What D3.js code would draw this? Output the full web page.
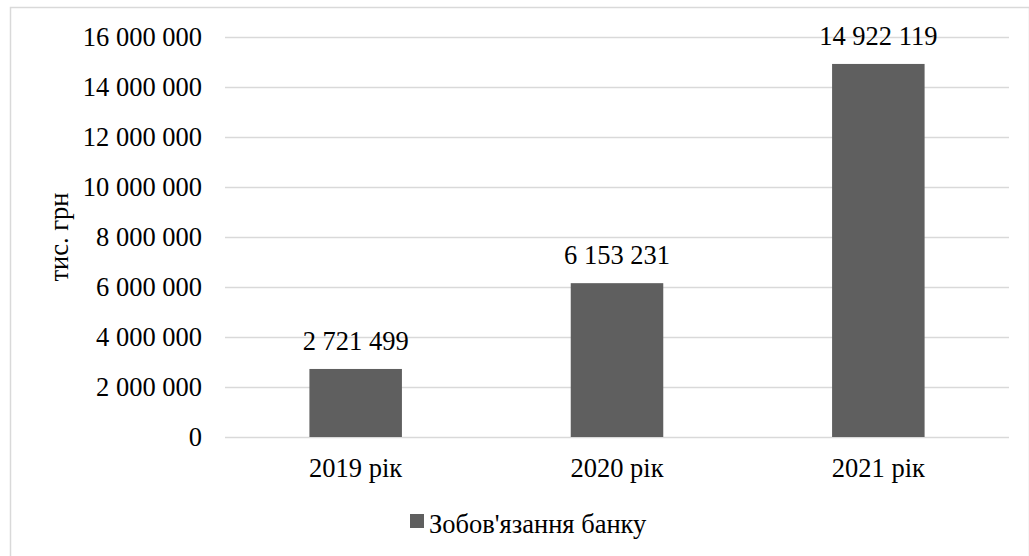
<!DOCTYPE html>
<html>
<head>
<meta charset="utf-8">
<script src="https://cdn.jsdelivr.net/npm/d3@7"></script>
<style>
html,body{margin:0;padding:0;background:#fff;}
</style>
</head>
<body>
<svg id="chart" width="1029" height="556"></svg>
<script>
const categories = ["2019 рік", "2020 рік", "2021 рік"];
const values = [2721499, 6153231, 14922119];
const yTicks = [0, 2000000, 4000000, 6000000, 8000000, 10000000, 12000000, 14000000, 16000000];
const seriesName = "Зобов'язання банку";
const yTitle = "тис. грн";

const FONT = '"Liberation Serif"';
const svg = d3.select("#chart");
const W = 1029, H = 556;
const plot = {left: 225, right: 1009, top: 37, bottom: 437};
const fontSize = 26.5;
const barColor = "#5f5f5f";

const loc = d3.formatLocale({decimal: ",", thousands: "\u00a0", grouping: [3], currency: ["", ""]});
const fmt = loc.format(",d");

// outer border
svg.append("rect").attr("x", 10.5).attr("y", 7.5).attr("width", W - 10).attr("height", H - 6)
  .attr("fill", "none").attr("stroke", "#d9d9d9").attr("stroke-width", 1.5);

const x = d3.scaleBand().domain(categories).range([plot.left, plot.right]).padding(0);
const y = d3.scaleLinear().domain([0, 16000000]).range([plot.bottom, plot.top]);

// gridlines
svg.append("g").selectAll("line").data(yTicks).join("line")
  .attr("x1", plot.left).attr("x2", plot.right)
  .attr("y1", d => Math.round(y(d)) + 0.5).attr("y2", d => Math.round(y(d)) + 0.5)
  .attr("stroke", "#d9d9d9").attr("stroke-width", 1.3);

// y axis labels
const yAxis = d3.axisLeft(y).tickValues(yTicks).tickFormat(fmt).tickSize(0).tickPadding(0);
const gy = svg.append("g").attr("transform", `translate(${plot.left - 23},0)`).call(yAxis);
gy.select(".domain").remove();
gy.attr("font-family", null).attr("font-size", null);
gy.selectAll("text").attr("font-size", fontSize).style("font-family", FONT).attr("fill", "#000");

// x axis labels
const xAxis = d3.axisBottom(x).tickSize(0).tickPadding(0);
const gx = svg.append("g").attr("transform", `translate(0,${plot.bottom})`).call(xAxis);
gx.select(".domain").remove();
gx.attr("font-family", null).attr("font-size", null);
gx.selectAll("text").attr("font-size", fontSize).style("font-family", FONT).attr("fill", "#000")
  .attr("dy", null).attr("y", 40);

// bars
const barW = x.bandwidth() * 0.354;
svg.append("g").selectAll("rect").data(values).join("rect")
  .attr("x", (d, i) => x(categories[i]) + x.bandwidth() / 2 - barW / 2)
  .attr("width", barW)
  .attr("y", d => y(d))
  .attr("height", d => y(0) - y(d))
  .attr("fill", barColor);

// data labels
svg.append("g").selectAll("text").data(values).join("text")
  .attr("x", (d, i) => x(categories[i]) + x.bandwidth() / 2)
  .attr("y", d => y(d) - 19)
  .attr("text-anchor", "middle")
  .attr("font-size", fontSize).style("font-family", FONT)
  .attr("fill", "#000")
  .text(d => fmt(d));

// y title
svg.append("text")
  .attr("transform", `translate(68,${(plot.top + plot.bottom) / 2}) rotate(-90)`)
  .attr("text-anchor", "middle")
  .attr("font-size", fontSize).style("font-family", FONT)
  .attr("fill", "#000")
  .text(yTitle);

// legend
const lg = svg.append("g").attr("transform", "translate(410,514)");
lg.append("rect").attr("width", 14).attr("height", 14).attr("fill", barColor);
lg.append("text").attr("x", 19).attr("y", 19)
  .attr("font-size", fontSize).style("font-family", FONT)
  .attr("fill", "#000").text(seriesName);
</script>
</body>
</html>
